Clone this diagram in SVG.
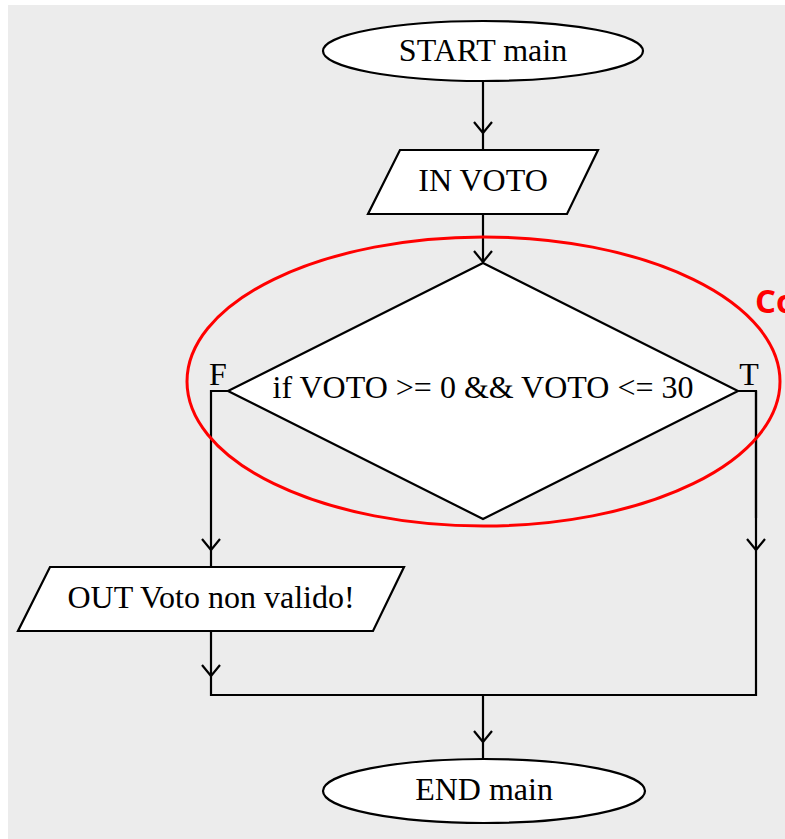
<svg xmlns="http://www.w3.org/2000/svg" width="785" height="839" viewBox="0 0 785 839">
  <style>
    .shape { fill: #ffffff; stroke: #000000; stroke-width: 2.2; }
    .lbl { font-family: "Liberation Serif", "Times New Roman", serif; font-size: 32px; fill: #000000; text-anchor: middle; }
    .wire { fill: none; stroke: #000000; stroke-width: 2.2; }
    .mark { fill: none; stroke: #ff0000; stroke-width: 3; }
    .note { font-family: "Open Sans", "Liberation Sans", sans-serif; font-weight: bold; font-size: 33px; fill: #ff0000; }
  </style>
  <defs>
    <marker id="arrow" markerUnits="userSpaceOnUse" markerWidth="24" markerHeight="24" refX="0" refY="0" orient="auto" overflow="visible">
      <path d="M-11,-9 L0,0 L-11,9" fill="none" stroke="#000000" stroke-width="2.2"/>
    </marker>
  </defs>

  <!-- page background -->
  <rect x="0" y="0" width="785" height="839" fill="#ffffff"/>
  <rect x="8" y="5" width="777" height="834" fill="#ececec"/>

  <!-- connectors -->
  <g id="connectors">
    <line class="wire" x1="483" y1="81" x2="483" y2="133" marker-end="url(#arrow)"/>
    <line class="wire" x1="483" y1="133" x2="483" y2="150"/>
    <line class="wire" x1="483" y1="214" x2="483" y2="262" marker-end="url(#arrow)"/>
    <!-- false branch -->
    <polyline class="wire" points="228,391 211,391 211,550" marker-end="url(#arrow)"/>
    <line class="wire" x1="211" y1="550" x2="211" y2="567"/>
    <line class="wire" x1="211" y1="631" x2="211" y2="676" marker-end="url(#arrow)"/>
    <!-- true branch -->
    <polyline class="wire" points="738,391 756,391 756,550" marker-end="url(#arrow)"/>
    <line class="wire" x1="756" y1="391" x2="756" y2="518" stroke-width="2.8"/>
    <!-- merge -->
    <polyline class="wire" points="211,676 211,695 756,695 756,550"/>
    <line class="wire" x1="483" y1="695" x2="483" y2="742" marker-end="url(#arrow)"/>
    <line class="wire" x1="483" y1="742" x2="483" y2="759"/>
  </g>

  <g id="start">
    <ellipse class="shape" cx="483" cy="51" rx="160" ry="30"/>
    <text class="lbl" x="483" y="61">START main</text>
  </g>

  <g id="input">
    <polygon class="shape" points="400,150 598,150 567,214 368,214"/>
    <text class="lbl" x="483" y="191">IN VOTO</text>
  </g>

  <g id="decision">
    <polygon class="shape" points="483,263 738,391 483,519 228,391"/>
    <text class="lbl" x="483" y="398">if VOTO &gt;= 0 &amp;&amp; VOTO &lt;= 30</text>
    <text class="lbl" x="218" y="385">F</text>
    <text class="lbl" x="749" y="385">T</text>
  </g>

  <g id="output">
    <polygon class="shape" points="50,567 404,567 373,631 18,631"/>
    <text class="lbl" x="211" y="608">OUT Voto non valido!</text>
  </g>

  <g id="end">
    <ellipse class="shape" cx="484" cy="791" rx="161" ry="32"/>
    <text class="lbl" x="484" y="800">END main</text>
  </g>

  <!-- highlight around the decision -->
  <g id="highlight">
    <ellipse class="mark" cx="483.5" cy="381.5" rx="296.5" ry="144.5"/>
    <text class="note" x="755" y="313">Co</text>
  </g>
</svg>
